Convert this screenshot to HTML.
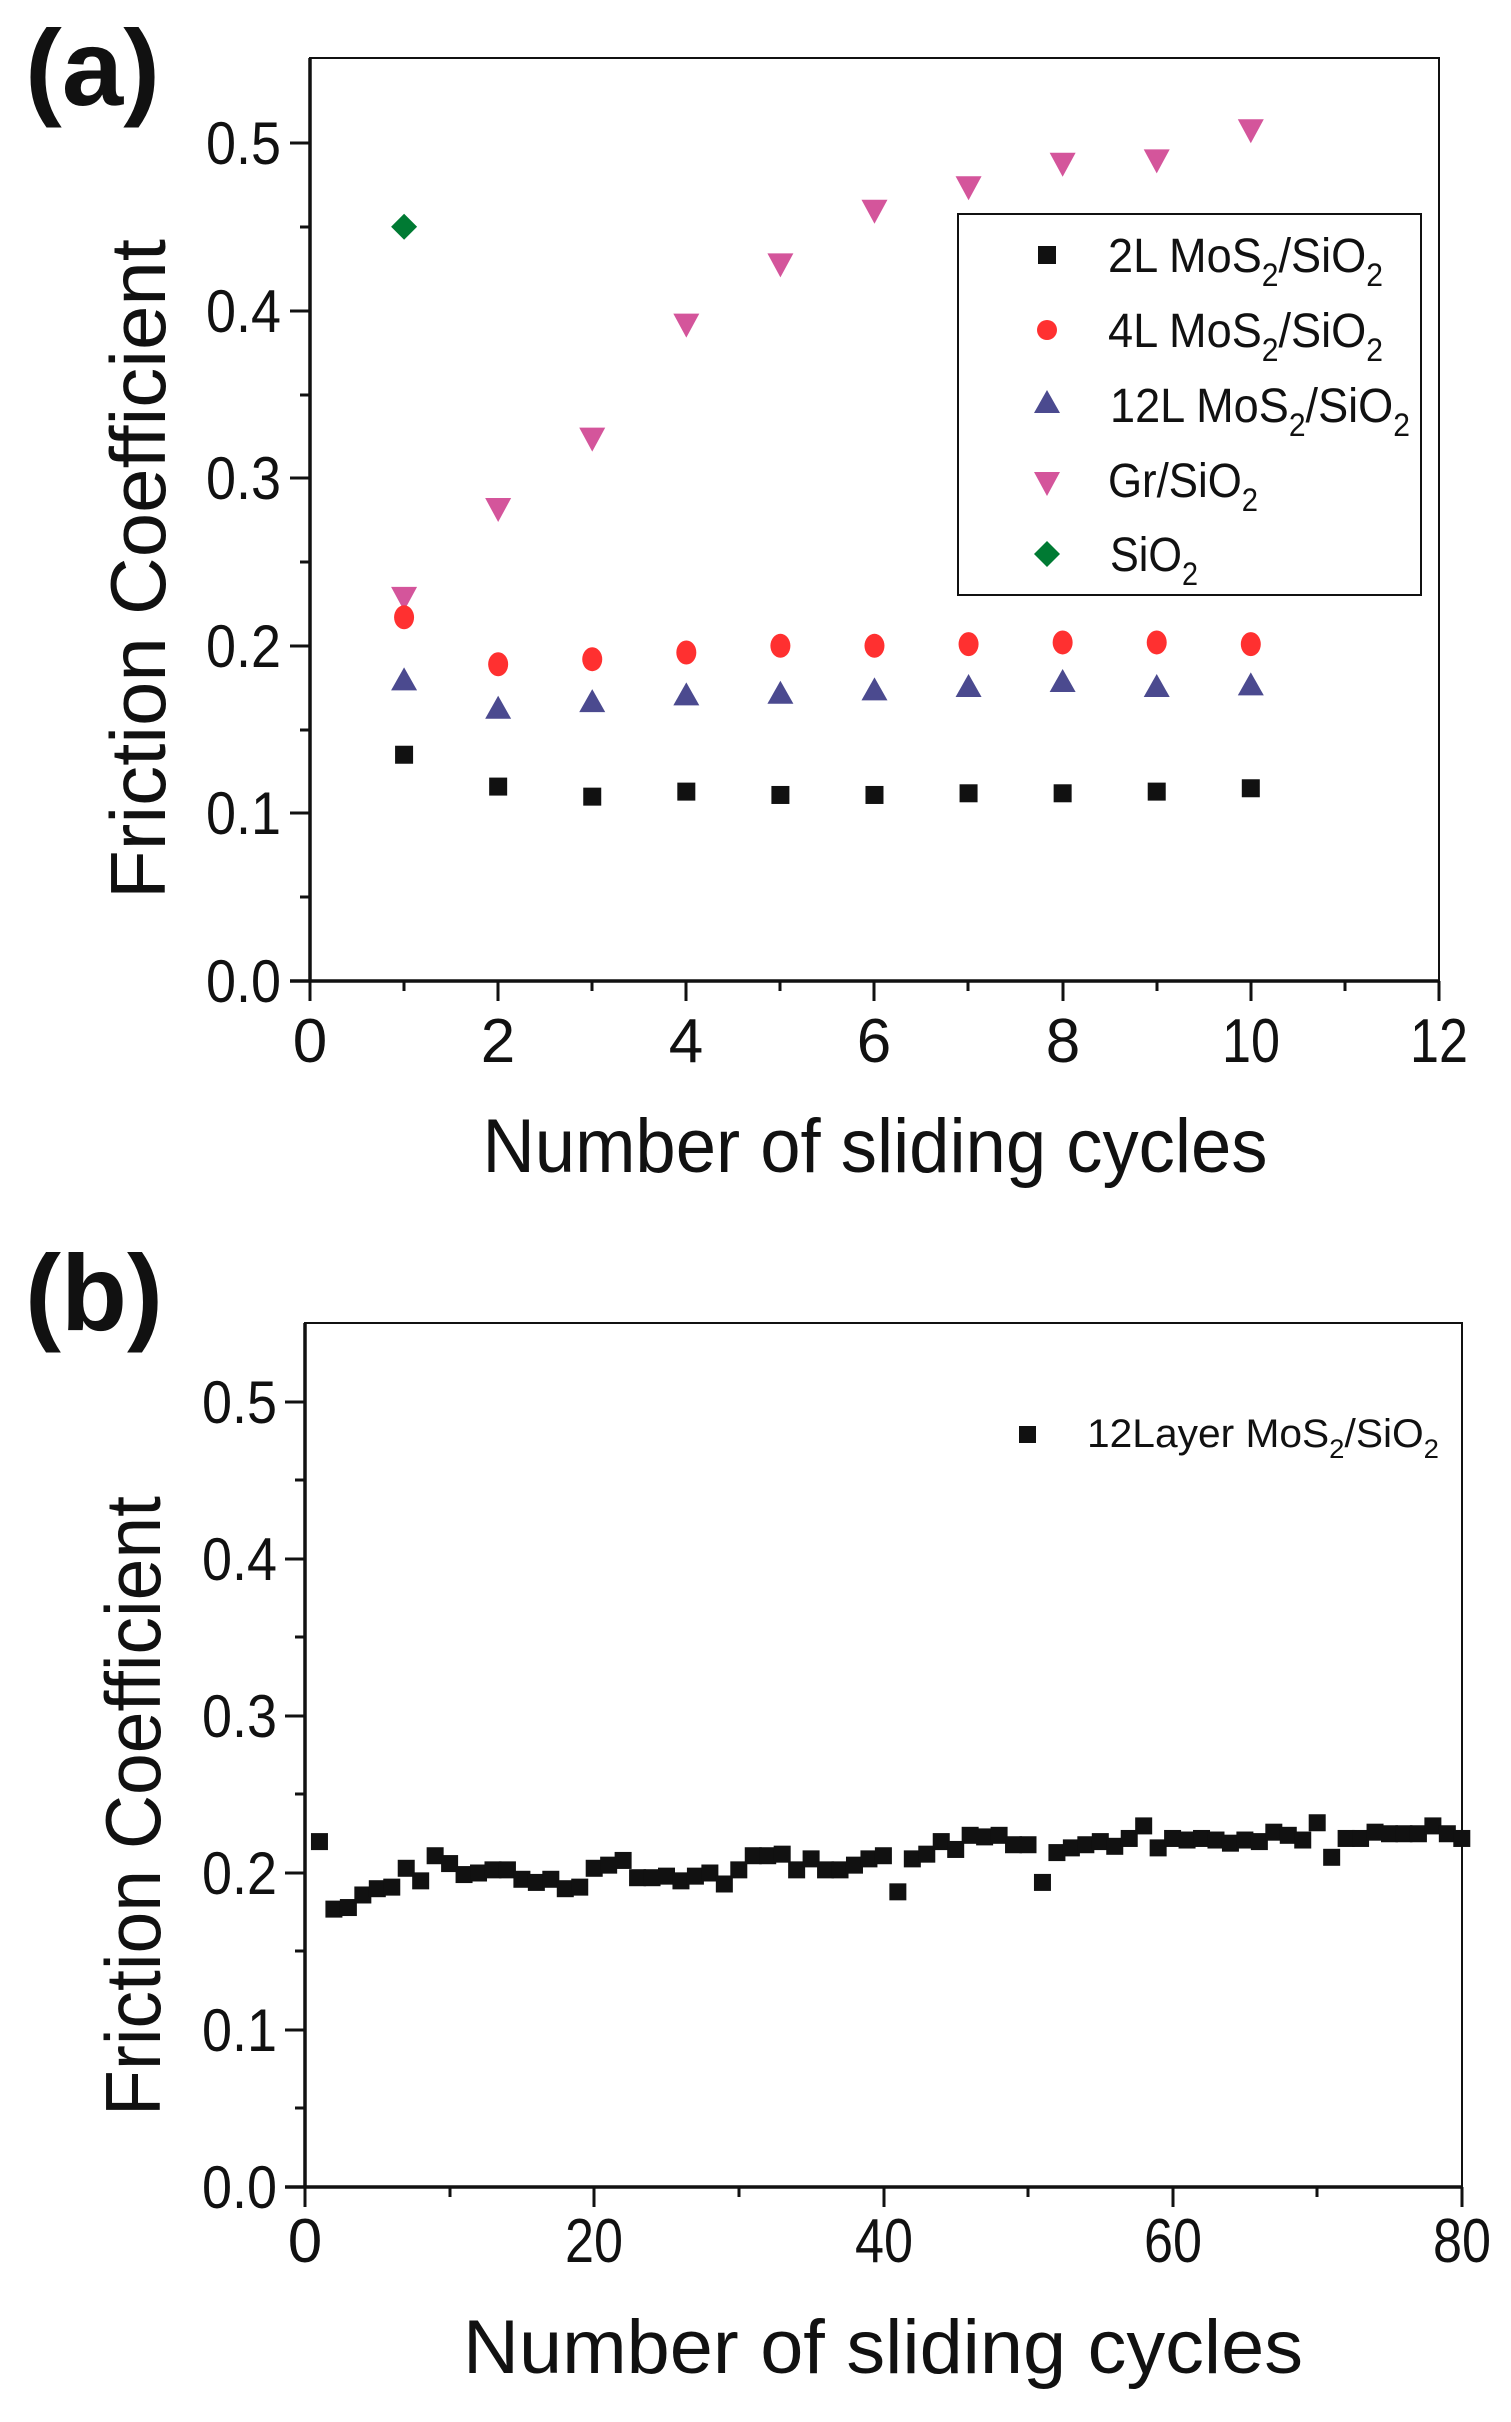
<!DOCTYPE html>
<html><head><meta charset="utf-8"><style>
html,body{margin:0;padding:0;background:#fff;}
svg{display:block;}
text{font-family:"Liberation Sans",sans-serif;fill:#111;}
</style></head><body>
<svg width="1511" height="2422" viewBox="0 0 1511 2422" xmlns="http://www.w3.org/2000/svg">
<!-- Panel a -->
<text x="25" y="105" font-size="108" font-weight="bold" textLength="135" lengthAdjust="spacingAndGlyphs">(a)</text>
<rect x="310" y="58" width="1129" height="923" fill="none" stroke="#111" stroke-width="2"/>
<line x1="310" y1="58" x2="310" y2="981" stroke="#111" stroke-width="3.5"/>
<line x1="290" y1="981" x2="1439" y2="981" stroke="#111" stroke-width="3.5"/>
<g stroke="#111" stroke-width="3">
<line x1="290" y1="813" x2="310" y2="813"/><line x1="290" y1="646" x2="310" y2="646"/><line x1="290" y1="478" x2="310" y2="478"/><line x1="290" y1="311" x2="310" y2="311"/><line x1="290" y1="143" x2="310" y2="143"/>
<line x1="300" y1="897" x2="310" y2="897"/><line x1="300" y1="730" x2="310" y2="730"/><line x1="300" y1="562" x2="310" y2="562"/><line x1="300" y1="395" x2="310" y2="395"/><line x1="300" y1="227" x2="310" y2="227"/>
<line x1="310" y1="981" x2="310" y2="1001"/><line x1="498" y1="981" x2="498" y2="1001"/><line x1="686" y1="981" x2="686" y2="1001"/><line x1="874" y1="981" x2="874" y2="1001"/><line x1="1063" y1="981" x2="1063" y2="1001"/><line x1="1251" y1="981" x2="1251" y2="1001"/><line x1="1439" y1="981" x2="1439" y2="1001"/>
<line x1="404" y1="981" x2="404" y2="991"/><line x1="592" y1="981" x2="592" y2="991"/><line x1="780" y1="981" x2="780" y2="991"/><line x1="968" y1="981" x2="968" y2="991"/><line x1="1157" y1="981" x2="1157" y2="991"/><line x1="1345" y1="981" x2="1345" y2="991"/>
</g>
<g font-size="60" text-anchor="end">
<text x="281" y="1002" textLength="75" lengthAdjust="spacingAndGlyphs">0.0</text>
<text x="281" y="834" textLength="75" lengthAdjust="spacingAndGlyphs">0.1</text>
<text x="281" y="667" textLength="75" lengthAdjust="spacingAndGlyphs">0.2</text>
<text x="281" y="499" textLength="75" lengthAdjust="spacingAndGlyphs">0.3</text>
<text x="281" y="332" textLength="75" lengthAdjust="spacingAndGlyphs">0.4</text>
<text x="281" y="164" textLength="75" lengthAdjust="spacingAndGlyphs">0.5</text>
</g>
<g font-size="62" text-anchor="middle">
<text x="310" y="1062">0</text><text x="498" y="1062">2</text><text x="686" y="1062">4</text><text x="874" y="1062">6</text><text x="1063" y="1062">8</text>
<text x="1251" y="1062" textLength="58" lengthAdjust="spacingAndGlyphs">10</text><text x="1439" y="1062" textLength="58" lengthAdjust="spacingAndGlyphs">12</text>
</g>
<text x="875" y="1172" font-size="76" text-anchor="middle" textLength="785" lengthAdjust="spacingAndGlyphs">Number of sliding cycles</text>
<text transform="translate(165,569) rotate(-90)" font-size="78" text-anchor="middle" textLength="660" lengthAdjust="spacingAndGlyphs">Friction Coefficient</text>

<!-- legend a -->
<rect x="958" y="214" width="463" height="381" fill="#fff" stroke="#111" stroke-width="2"/>
<rect x="1038" y="246" width="18" height="18" fill="#111"/>
<circle cx="1047" cy="330" r="10" fill="#ff3030"/>
<polygon points="1034,413 1047,390 1060,413" fill="#4b4a8f"/>
<polygon points="1034,472 1060,472 1047,496" fill="#d4559b"/>
<polygon points="1047,541 1060,554 1047,567 1034,554" fill="#007a33"/>
<g font-size="48">
<text x="1108" y="272" textLength="275" lengthAdjust="spacingAndGlyphs">2L MoS<tspan font-size="32" dy="14">2</tspan><tspan dy="-14">/SiO</tspan><tspan font-size="32" dy="14">2</tspan></text>
<text x="1108" y="347" textLength="275" lengthAdjust="spacingAndGlyphs">4L MoS<tspan font-size="32" dy="14">2</tspan><tspan dy="-14">/SiO</tspan><tspan font-size="32" dy="14">2</tspan></text>
<text x="1110" y="422" textLength="300" lengthAdjust="spacingAndGlyphs">12L MoS<tspan font-size="32" dy="14">2</tspan><tspan dy="-14">/SiO</tspan><tspan font-size="32" dy="14">2</tspan></text>
<text x="1108" y="497" textLength="150" lengthAdjust="spacingAndGlyphs">Gr/SiO<tspan font-size="32" dy="14">2</tspan></text>
<text x="1110" y="571" textLength="88" lengthAdjust="spacingAndGlyphs">SiO<tspan font-size="32" dy="14">2</tspan></text>
</g>
<g id="pa"></g>

<!-- Panel b -->
<text x="25" y="1330" font-size="108" font-weight="bold" textLength="138" lengthAdjust="spacingAndGlyphs">(b)</text>
<rect x="305" y="1323" width="1157" height="864" fill="none" stroke="#111" stroke-width="2"/>
<line x1="305" y1="1323" x2="305" y2="2187" stroke="#111" stroke-width="3.5"/>
<line x1="285" y1="2187" x2="1462" y2="2187" stroke="#111" stroke-width="3.5"/>
<g stroke="#111" stroke-width="3">
<line x1="285" y1="2030" x2="305" y2="2030"/><line x1="285" y1="1873" x2="305" y2="1873"/><line x1="285" y1="1716" x2="305" y2="1716"/><line x1="285" y1="1559" x2="305" y2="1559"/><line x1="285" y1="1402" x2="305" y2="1402"/>
<line x1="295" y1="2108" x2="305" y2="2108"/><line x1="295" y1="1951" x2="305" y2="1951"/><line x1="295" y1="1794" x2="305" y2="1794"/><line x1="295" y1="1637" x2="305" y2="1637"/><line x1="295" y1="1480" x2="305" y2="1480"/>
<line x1="305" y1="2187" x2="305" y2="2207"/><line x1="594" y1="2187" x2="594" y2="2207"/><line x1="884" y1="2187" x2="884" y2="2207"/><line x1="1173" y1="2187" x2="1173" y2="2207"/><line x1="1462" y1="2187" x2="1462" y2="2207"/>
<line x1="450" y1="2187" x2="450" y2="2197"/><line x1="739" y1="2187" x2="739" y2="2197"/><line x1="1028" y1="2187" x2="1028" y2="2197"/><line x1="1317" y1="2187" x2="1317" y2="2197"/>
</g>
<g font-size="60" text-anchor="end">
<text x="277" y="2208" textLength="75" lengthAdjust="spacingAndGlyphs">0.0</text>
<text x="277" y="2051" textLength="75" lengthAdjust="spacingAndGlyphs">0.1</text>
<text x="277" y="1894" textLength="75" lengthAdjust="spacingAndGlyphs">0.2</text>
<text x="277" y="1737" textLength="75" lengthAdjust="spacingAndGlyphs">0.3</text>
<text x="277" y="1580" textLength="75" lengthAdjust="spacingAndGlyphs">0.4</text>
<text x="277" y="1423" textLength="75" lengthAdjust="spacingAndGlyphs">0.5</text>
</g>
<g font-size="62" text-anchor="middle">
<text x="305" y="2262">0</text>
<text x="594" y="2262" textLength="58" lengthAdjust="spacingAndGlyphs">20</text>
<text x="884" y="2262" textLength="58" lengthAdjust="spacingAndGlyphs">40</text>
<text x="1173" y="2262" textLength="58" lengthAdjust="spacingAndGlyphs">60</text>
<text x="1462" y="2262" textLength="58" lengthAdjust="spacingAndGlyphs">80</text>
</g>
<text x="883" y="2373" font-size="76" text-anchor="middle" textLength="840" lengthAdjust="spacingAndGlyphs">Number of sliding cycles</text>
<text transform="translate(160,1806) rotate(-90)" font-size="78" text-anchor="middle" textLength="620" lengthAdjust="spacingAndGlyphs">Friction Coefficient</text>
<rect x="1019" y="1426" width="17" height="17" fill="#111"/>
<text x="1087" y="1447" font-size="40" textLength="352" lengthAdjust="spacingAndGlyphs">12Layer MoS<tspan font-size="27" dy="11">2</tspan><tspan dy="-11">/SiO</tspan><tspan font-size="27" dy="11">2</tspan></text>
<g id="pb" fill="#111"></g>
</svg>
<script>
var NS="http://www.w3.org/2000/svg";
function el(p,t,a){var e=document.createElementNS(NS,t);for(var k in a)e.setAttribute(k,a[k]);p.appendChild(e);}
var pa=document.getElementById("pa");
function X(i){return 310+i*94.08;} function Y(v){return 981-v*1676;}
var s2=[.135,.116,.11,.113,.111,.111,.112,.112,.113,.115];
var s4=[.217,.189,.192,.196,.200,.200,.201,.202,.202,.201];
var s12=[.180,.163,.167,.171,.172,.174,.176,.179,.176,.177];
var gr=[.228,.281,.323,.391,.427,.459,.473,.487,.489,.507];
for(var i=0;i<10;i++){var x=X(i+1);
 el(pa,"polygon",{points:(x-13)+","+(Y(gr[i])-12)+" "+(x+13)+","+(Y(gr[i])-12)+" "+x+","+(Y(gr[i])+12),fill:"#d4559b"});
 el(pa,"rect",{x:x-9,y:Y(s2[i])-9,width:18,height:18,fill:"#111"});
 el(pa,"ellipse",{cx:x,cy:Y(s4[i]),rx:10,ry:12,fill:"#ff3030"});
 var y=Y(s12[i]);el(pa,"polygon",{points:(x-13)+","+(y+11)+" "+x+","+(y-12)+" "+(x+13)+","+(y+11),fill:"#4b4a8f"});
}
var y=Y(.45),x=X(1);el(pa,"polygon",{points:x+","+(y-13)+" "+(x+13)+","+y+" "+x+","+(y+13)+" "+(x-13)+","+y,fill:"#007a33"});
var b=[.22,.177,.178,.186,.19,.191,.203,.195,.211,.206,.199,.2,.202,.202,.196,.194,.196,.19,.191,.203,.205,.208,.197,.197,.198,.195,.198,.2,.193,.202,.211,.211,.212,.202,.209,.202,.202,.205,.209,.211,.188,.209,.212,.22,.215,.224,.223,.224,.218,.218,.194,.213,.216,.218,.22,.217,.222,.23,.216,.222,.221,.222,.221,.219,.221,.22,.226,.224,.221,.232,.21,.222,.222,.226,.225,.225,.225,.23,.225,.222];
var pb=document.getElementById("pb");
for(var j=0;j<b.length;j++){var xx=305+(j+1)*14.46,yy=2187-b[j]*1570;el(pb,"rect",{x:xx-8.5,y:yy-8.5,width:17,height:17});}
</script>
</body></html>
